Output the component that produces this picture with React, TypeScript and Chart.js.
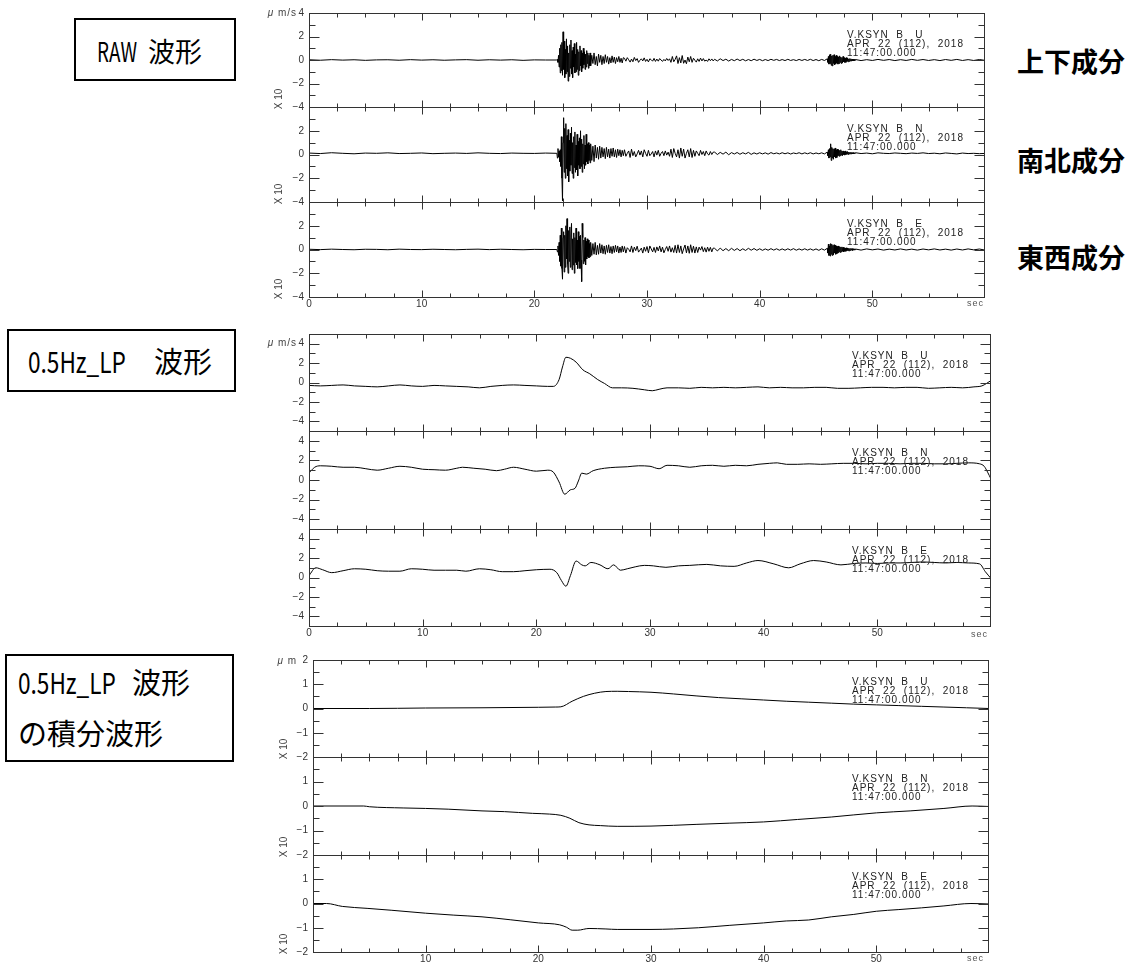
import React, { useEffect, useRef } from 'react';
import { Chart, registerables } from 'chart.js';

Chart.register(...registerables);

// ------------------------------------------------------------------ data
const X_TICK_VALUES = [0, 10, 20, 30, 40, 50, 60];
const X_LABELS_FULL = ['0', '10', '20', '30', '40', '50', ''];
const X_LABELS_NO0 = ['', '10', '20', '30', '40', '50', ''];

const STATION_LINE = 'V.KSYN  B   ';
const COMPONENTS = ['U', 'N', 'E'];
const DATE_LINE = 'APR  22  (112),  2018';
const TIME_LINE = '11:47:00.000';
const RIGHT_LABELS = ['上下成分', '南北成分', '東西成分'];

// RAW waveform segments: sample start time / sample step (s)
const RAW_PRE_START = 0, RAW_PRE_STEP = 1;
const RAW_BURST_A_START = 22, RAW_BURST_A_STEP = 0.05;
const RAW_BURST_B_START = 25, RAW_BURST_B_STEP = 0.1;
const RAW_CODA_A_START = 28, RAW_CODA_A_STEP = 0.125;
const RAW_CODA_B_START = 36, RAW_CODA_B_STEP = 0.25;
const RAW_BURST2_START = 46, RAW_BURST2_STEP = 0.05;
const RAW_TAIL_START = 48.5, RAW_TAIL_STEP = 0.5;

// ---- U
const RAW_U_PRE = [0.02, -0.02, 0.03, -0.01, 0.02, -0.03, 0.01, 0.02, -0.02, 0.03, -0.01, 0.02, -0.02, 0.01, 0.03, -0.02, 0.02, -0.01, 0.02, -0.03, 0.01, 0.0];
const RAW_U_BURST_A = [
  0.0, 0.05, -0.2, 0.4, -0.6, 1.0, -1.1, 1.3, -0.9, 1.5,
  -1.3, 2.4, -0.8, 1.6, -1.5, 0.9, -1.2, 1.8, -1.0, 1.2,
  -1.8, 0.6, -1.4, 1.3, -0.7, 1.7, -1.2, 0.8, -1.5, 1.1,
  -0.6, 1.4, -1.1, 0.5, -1.0, 1.5, -0.8, 0.9, -1.3, 0.7,
  -0.9, 1.2, -0.5, 0.8, -1.0, 0.6, -0.7, 1.0, -0.4, 0.7,
  -0.8, 0.5, -0.6, 0.8, -0.3, 0.6, -0.7, 0.4, -0.5, 0.6];
const RAW_U_BURST_B = [
  -0.5, 0.4, -0.3, 0.6, -0.4, 0.3, -0.5, 0.5, -0.2, 0.4,
  -0.4, 0.3, -0.3, 0.45, -0.2, 0.3, -0.35, 0.2, -0.25, 0.35,
  -0.2, 0.25, -0.3, 0.2, -0.15, 0.3, -0.2, 0.15, -0.25, 0.2];
const RAW_U_CODA_A = [
  0.15, -0.1, 0.2, 0.02, -0.18, 0.08, -0.15, 0.22,
  -0.05, 0.12, -0.2, -0.02, 0.1, -0.08, 0.18, -0.12,
  0.06, -0.16, 0.1, 0.02, -0.1, 0.14, -0.12, 0.08,
  -0.1, 0.12, 0.0, -0.12, 0.05, -0.08, 0.13, -0.04,
  0.1, -0.2, 0.3, -0.15, 0.05, 0.35, -0.3, 0.2,
  -0.25, 0.38, -0.28, 0.0, -0.32, 0.25, -0.15, 0.3,
  -0.2, 0.15, -0.02, -0.18, 0.1, -0.12, 0.16, -0.08,
  0.12, -0.1, 0.0, -0.12, 0.1, -0.06, 0.09, -0.08];
const RAW_U_CODA_B = [
  0.06, -0.08, 0.1, -0.05, 0.07, -0.09, 0.05, -0.06,
  0.08, -0.05, 0.06, -0.07, 0.04, -0.06, 0.07, -0.04,
  0.05, -0.06, 0.04, -0.05, 0.06, -0.03, 0.05, -0.05,
  0.04, -0.05, 0.06, -0.04, 0.03, -0.05, 0.05, -0.04,
  0.05, -0.04, 0.06, -0.05, 0.04, -0.06, 0.05, -0.04];
const RAW_U_BURST2 = [
  0.1, -0.2, 0.3, -0.35, 0.45, -0.3, 0.5, -0.45, 0.35, -0.5,
  0.4, -0.3, 0.45, -0.4, 0.3, -0.35, 0.4, -0.25, 0.3, -0.35,
  0.25, -0.3, 0.35, -0.2, 0.25, -0.3, 0.2, -0.25, 0.3, -0.15,
  0.2, -0.2, 0.15, -0.2, 0.2, -0.12, 0.15, -0.15, 0.1, -0.12,
  0.12, -0.08, 0.1, -0.1, 0.08, -0.06, 0.07, -0.08, 0.05, -0.05];
const RAW_U_TAIL = [0.04, -0.05, 0.03, -0.04, 0.05, -0.03, 0.04, -0.05, 0.03, -0.04, 0.05, -0.03, 0.04, -0.04, 0.03, -0.05, 0.04, -0.03, 0.05, -0.04, 0.03, -0.04, 0.04, -0.03];

// ---- N
const RAW_N_PRE = [0.12, 0.08, 0.15, 0.1, 0.06, 0.12, 0.1, 0.14, 0.08, 0.1, 0.13, 0.07, 0.1, 0.12, 0.09, 0.14, 0.1, 0.08, 0.12, 0.1, 0.09, 0.12];
const RAW_N_BURST_A = [
  0.1, -0.3, 0.5, -0.2, 0.3, -0.6, 0.4, -1.0, 1.5, -2.0,
  -3.9, 1.0, 3.1, -1.5, 2.2, -2.0, 2.6, -1.2, 1.6, -1.8,
  2.1, -2.3, 1.2, -1.4, 1.8, -0.9, 2.3, -1.6, 1.0, -2.0,
  1.5, -1.1, 1.9, -1.5, 0.8, -1.3, 1.7, -1.8, 1.1, -0.9,
  1.4, -1.2, 2.0, -1.0, 1.3, -1.5, 0.9, -0.8, 1.6, -1.2,
  0.8, -0.9, 1.7, -0.6, 0.9, -0.8, 1.0, -0.5, 0.8, -0.7];
const RAW_N_BURST_B = [
  0.9, -0.5, 0.7, -0.6, 0.8, -0.3, 0.6, -0.4, 0.7, -0.3,
  0.6, -0.2, 0.5, -0.35, 0.6, -0.2, 0.45, -0.3, 0.5, -0.15,
  0.55, -0.2, 0.4, -0.25, 0.45, -0.1, 0.4, -0.2, 0.35, -0.1];
const RAW_N_CODA_A = [
  0.4, -0.15, 0.1, 0.3, -0.25, 0.45, -0.1, 0.25,
  -0.2, 0.05, 0.35, -0.05, 0.3, -0.2, 0.4, 0.1,
  -0.15, 0.35, -0.1, 0.05, 0.25, -0.2, 0.3, -0.05,
  0.35, -0.15, 0.1, 0.25, -0.1, 0.3, -0.05, 0.2,
  -0.15, 0.45, -0.25, 0.5, 0.1, -0.2, 0.4, -0.3,
  0.55, -0.15, 0.45, -0.3, 0.1, 0.4, -0.2, 0.5,
  -0.25, 0.35, -0.15, 0.3, 0.1, -0.1, 0.35, 0.0,
  0.25, -0.1, 0.3, 0.05, -0.05, 0.25, 0.0, 0.2];
const RAW_N_CODA_B = [
  0.2, 0.0, 0.18, 0.03, 0.2, -0.02, 0.16, 0.04,
  0.17, 0.02, 0.15, 0.05, 0.18, 0.01, 0.14, 0.04,
  0.15, 0.05, 0.14, 0.03, 0.16, 0.06, 0.13, 0.05,
  0.15, 0.06, 0.14, 0.04, 0.13, 0.07, 0.15, 0.05,
  0.14, 0.06, 0.15, 0.05, 0.13, 0.06, 0.14, 0.05];
const RAW_N_BURST2 = [
  0.2, -0.1, 0.4, -0.3, 0.5, -0.2, 0.9, -0.5, 0.6, -0.3,
  0.5, -0.4, 0.45, -0.2, 0.55, -0.3, 0.4, -0.25, 0.45, -0.1,
  0.4, -0.15, 0.35, -0.1, 0.4, -0.05, 0.3, -0.1, 0.3, 0.0,
  0.25, -0.05, 0.3, 0.0, 0.2, 0.02, 0.25, 0.0, 0.2, 0.04,
  0.18, 0.05, 0.2, 0.03, 0.15, 0.06, 0.16, 0.05, 0.14, 0.08];
const RAW_N_TAIL = [0.15, 0.08, 0.12, 0.06, 0.14, 0.1, 0.08, 0.13, 0.1, 0.07, 0.12, 0.09, 0.14, 0.08, 0.11, 0.06, 0.13, 0.09, 0.05, 0.12, 0.08, 0.1, 0.07, 0.09];

// ---- E
const RAW_E_PRE = [0.02, -0.01, 0.03, 0.0, -0.02, 0.02, 0.01, -0.02, 0.03, 0.0, -0.01, 0.02, 0.0, -0.02, 0.01, 0.03, -0.01, 0.02, 0.0, -0.02, 0.01, 0.0];
const RAW_E_BURST_A = [
  0.0, -0.2, 0.3, -0.5, 0.6, -1.0, 1.2, -1.4, 1.8, -1.6,
  -2.5, 1.0, 1.5, -1.9, 1.2, -1.5, 2.0, -0.8, 2.6, -1.2,
  -2.0, 1.6, -1.0, 1.9, -1.5, 1.0, 2.2, -1.7, 0.9, -1.3,
  1.4, -2.0, 1.0, -1.1, 1.8, -1.3, 0.8, -1.6, 1.5, -1.0,
  1.1, -1.6, 1.2, -0.9, -2.7, 2.2, 1.0, -1.2, 0.8, -1.0,
  1.0, -1.3, 0.7, -0.8, 0.9, -0.6, 0.8, -0.7, 0.5, -0.6];
const RAW_E_BURST_B = [
  0.6, -0.5, 0.5, -0.4, 0.6, -0.45, 0.35, -0.4, 0.5, -0.3,
  0.4, -0.35, 0.3, -0.4, 0.35, -0.25, 0.4, -0.3, 0.25, -0.35,
  0.3, -0.25, 0.35, -0.2, 0.3, -0.3, 0.2, -0.25, 0.3, -0.2];
const RAW_E_CODA_A = [
  0.25, -0.3, 0.15, 0.02, -0.2, 0.3, -0.25, 0.2,
  -0.1, 0.28, -0.22, -0.05, 0.12, -0.3, 0.2, -0.15,
  0.25, -0.28, 0.3, 0.05, -0.2, 0.18, -0.25, 0.22,
  -0.12, 0.3, -0.2, 0.2, -0.28, 0.0, 0.25, -0.15,
  0.3, -0.22, 0.15, -0.25, 0.35, -0.3, 0.4, -0.25,
  0.3, -0.35, 0.05, 0.38, -0.28, 0.3, -0.32, 0.4,
  -0.25, 0.28, -0.3, 0.22, -0.25, 0.2, -0.05, 0.25,
  -0.18, 0.15, -0.22, 0.2, -0.15, 0.18, -0.2, 0.12];
const RAW_E_CODA_B = [
  0.1, -0.12, 0.12, -0.1, 0.08, -0.1, 0.1, -0.08,
  0.08, -0.1, 0.06, -0.08, 0.1, -0.06, 0.08, -0.07,
  0.06, -0.07, 0.05, -0.06, 0.07, -0.05, 0.06, -0.06,
  0.05, -0.06, 0.06, -0.05, 0.07, -0.06, 0.05, -0.05,
  0.06, -0.05, 0.05, -0.06, 0.05, -0.07, 0.06, -0.05];
const RAW_E_BURST2 = [
  0.1, -0.3, 0.45, -0.5, 0.3, -0.55, 0.5, -0.4, 0.45, -0.5,
  0.35, -0.45, 0.4, -0.3, 0.35, -0.4, 0.3, -0.35, 0.25, -0.3,
  0.3, -0.2, 0.25, -0.25, 0.2, -0.2, 0.22, -0.15, 0.18, -0.2,
  0.15, -0.15, 0.12, -0.15, 0.14, -0.1, 0.12, -0.1, 0.1, -0.12,
  0.08, -0.08, 0.1, -0.06, 0.07, -0.08, 0.06, -0.05, 0.05, -0.05];
const RAW_E_TAIL = [0.04, -0.05, 0.05, -0.03, 0.04, -0.05, 0.03, -0.04, 0.05, -0.04, 0.03, -0.05, 0.04, -0.03, 0.05, -0.04, 0.03, -0.05, 0.04, -0.04, 0.05, -0.03, 0.04, -0.05];

// 0.5 Hz low-pass waveforms: [time s, value]
const LP_U = [[0, -0.3], [1, -0.35], [2, -0.3], [3, -0.25], [4, -0.35], [5, -0.4], [6, -0.45], [7, -0.35], [8, -0.25], [9, -0.35], [10, -0.4], [11, -0.3], [12, -0.35], [13, -0.4], [14, -0.45], [15, -0.55], [16, -0.4], [17, -0.3], [18, -0.25], [19, -0.3], [20, -0.35], [21, -0.4], [21.5, -0.4], [22, 0.3], [22.3, 1.6], [22.6, 2.6], [23.0, 2.5], [23.5, 2.1], [24.1, 1.3], [24.7, 0.9], [25.4, 0.3], [26.0, -0.1], [26.7, -0.55], [27.5, -0.55], [28.5, -0.6], [29.5, -0.75], [30.2, -0.85], [30.8, -0.7], [31.5, -0.55], [32.5, -0.55], [33.5, -0.6], [34.5, -0.5], [35.5, -0.55], [36.5, -0.5], [37.5, -0.55], [38.5, -0.5], [39.5, -0.45], [40.5, -0.55], [41.5, -0.5], [42.5, -0.55], [43.5, -0.55], [44.5, -0.5], [45.5, -0.5], [46.5, -0.6], [47.5, -0.6], [48.5, -0.55], [49.5, -0.5], [50.5, -0.5], [51.5, -0.55], [52.5, -0.5], [53.5, -0.5], [54.5, -0.6], [55.5, -0.55], [56.5, -0.5], [57.5, -0.55], [58.5, -0.45], [59.2, -0.35], [59.6, -0.1], [60, 0.2]];
const LP_N = [[0, 0.7], [0.5, 1.3], [1, 1.45], [2, 1.4], [3, 1.3], [4, 1.3], [5, 1.15], [6, 1.0], [7, 1.2], [8, 1.4], [9, 1.3], [10, 1.1], [11, 1.05], [12, 1.0], [13, 1.2], [13.5, 1.3], [14.5, 1.2], [15.5, 1.1], [16.5, 0.95], [17.2, 1.1], [18, 1.3], [19, 1.1], [20, 0.9], [21, 1.0], [21.5, 0.8], [22, -0.2], [22.5, -1.45], [23.0, -1.0], [23.4, -0.85], [23.7, -0.1], [24.0, 0.7], [24.4, 0.6], [25, 0.95], [26, 1.2], [27, 1.3], [28, 1.35], [29, 1.45], [30, 1.4], [30.8, 1.15], [31.5, 1.5], [32.5, 1.45], [33.5, 1.3], [34.5, 1.45], [35.5, 1.5], [36.5, 1.4], [37.5, 1.5], [38.5, 1.45], [39.5, 1.6], [40.5, 1.7], [41.2, 1.75], [42, 1.6], [43, 1.6], [44, 1.65], [45, 1.6], [46, 1.65], [47, 1.7], [48, 1.7], [49, 1.65], [50, 1.7], [51, 1.7], [52, 1.65], [53, 1.7], [54, 1.7], [55, 1.65], [56, 1.65], [57, 1.7], [58, 1.75], [59, 1.65], [59.4, 1.4], [59.7, 0.8], [60, 0.1]];
const LP_E = [[0, 0.2], [0.6, 1.0], [1.2, 0.8], [2, 0.5], [3, 0.7], [4, 0.9], [5, 0.85], [6, 0.7], [7, 0.65], [8, 0.65], [9, 0.9], [10, 0.85], [11, 0.75], [12, 0.75], [13, 0.75], [13.8, 0.65], [15, 0.9], [16, 0.8], [17, 0.6], [18, 0.6], [19, 0.7], [20, 0.8], [21.2, 0.85], [21.8, 0.5], [22.2, -0.3], [22.6, -0.9], [23.0, 0.2], [23.5, 1.7], [24.0, 1.3], [24.3, 1.2], [24.8, 1.55], [25.6, 1.3], [26.3, 0.9], [26.8, 1.3], [27.4, 0.75], [28.0, 0.9], [28.7, 1.1], [29.5, 1.25], [30.3, 1.2], [31.4, 1.05], [32.5, 1.2], [33.5, 1.25], [35, 1.35], [36.2, 1.2], [37.4, 1.15], [38.5, 1.5], [39.5, 1.75], [40.9, 1.4], [42.2, 1.0], [43.2, 1.4], [44.4, 1.75], [45.5, 1.6], [46.8, 1.3], [48, 1.45], [49, 1.5], [50, 1.45], [51, 1.5], [52, 1.5], [53, 1.55], [54, 1.6], [55, 1.55], [56, 1.5], [57, 1.55], [58, 1.5], [59, 1.4], [59.5, 0.6], [60, -0.1]];

// integrated (displacement) waveforms: [time s, value]
const INT_U = [[0, 0.0], [5, 0.0], [10, 0.02], [15, 0.03], [20, 0.05], [21.5, 0.06], [22, 0.07], [23, 0.3], [24, 0.5], [25, 0.63], [26, 0.7], [27, 0.71], [28, 0.7], [30, 0.67], [32, 0.6], [34, 0.52], [36, 0.45], [38, 0.4], [40, 0.35], [42, 0.3], [44, 0.26], [46, 0.22], [48, 0.18], [50, 0.15], [52, 0.12], [54, 0.09], [56, 0.06], [58, 0.03], [60, 0.0]];
const INT_N = [[0, 0], [4.5, 0], [5, -0.03], [8, -0.08], [10, -0.1], [12, -0.13], [15, -0.2], [17, -0.23], [19.5, -0.3], [21, -0.33], [22, -0.38], [22.8, -0.5], [23.6, -0.68], [24.5, -0.77], [25.5, -0.8], [27, -0.83], [30, -0.82], [34, -0.75], [37, -0.7], [40, -0.65], [43, -0.55], [46, -0.45], [50, -0.28], [53, -0.2], [56, -0.1], [58.5, 0.0], [60, -0.02]];
const INT_E = [[0, 0], [1.2, 0], [2.6, -0.12], [4.8, -0.2], [7, -0.28], [10, -0.4], [12.5, -0.48], [15, -0.55], [17.5, -0.67], [20, -0.8], [21.9, -0.88], [22.5, -0.98], [23, -1.1], [23.5, -1.1], [24.5, -1.03], [26, -1.05], [27, -1.07], [30, -1.07], [32, -1.05], [34.2, -1.0], [37, -0.9], [40, -0.8], [42, -0.72], [44, -0.68], [46, -0.55], [48, -0.45], [50, -0.32], [52, -0.25], [54, -0.18], [56, -0.1], [58.4, 0.0], [60, -0.02]];

const Y_TICKS_RAW_TOP = [-4, -2, 0, 2, 4];
const Y_TICKS_RAW = [-4, -2, 0, 2];
const Y_MINOR_RAW = [-3, -1, 1, 3];
const Y_TICKS_LP = [-4, -2, 0, 2, 4];
const Y_MINOR_LP = [-5, -3, -1, 1, 3, 5];
const Y_TICKS_INT_TOP = [-2, -1, 0, 1, 2];
const Y_TICKS_INT = [-2, -1, 0, 1];
const Y_MINOR_INT = [-1.5, -0.5, 0.5, 1.5];

// ------------------------------------------------------------------ helpers
type Pt = { x: number; y: number };
const seg = (start: number, step: number, vals: number[]): Pt[] =>
  vals.map((v, i) => ({ x: Math.round((start + i * step) * 1000) / 1000, y: v }));
const rawTrace = (pre: number[], a: number[], b: number[], ca: number[], cb: number[], b2: number[], tail: number[]): Pt[] => [
  ...seg(RAW_PRE_START, RAW_PRE_STEP, pre),
  ...seg(RAW_BURST_A_START, RAW_BURST_A_STEP, a),
  ...seg(RAW_BURST_B_START, RAW_BURST_B_STEP, b),
  ...seg(RAW_CODA_A_START, RAW_CODA_A_STEP, ca),
  ...seg(RAW_CODA_B_START, RAW_CODA_B_STEP, cb),
  ...seg(RAW_BURST2_START, RAW_BURST2_STEP, b2),
  ...seg(RAW_TAIL_START, RAW_TAIL_STEP, tail),
];
const pairs = (arr: number[][]): Pt[] => arr.map(([x, y]) => ({ x, y }));
const fmt = (v: number) => (v < 0 ? '\u2212' + Math.abs(v) : String(v));

// ------------------------------------------------------------------ layout
const GROUPS = [
  { left: 309, right: 985, tops: [13, 107, 202, 297], ymin: -4, ymax: 4, textLeft: 847, x10: 279, secLeft: 967, secTop: 298, unit: 'm/s', unitTop: 7 },
  { left: 309, right: 991, tops: [334, 431, 529, 626], ymin: -5, ymax: 5, textLeft: 852, x10: 0, secLeft: 971, secTop: 629, unit: 'm/s', unitTop: 337 },
  { left: 313, right: 989, tops: [660, 757, 855, 952], ymin: -2, ymax: 2, textLeft: 852, x10: 284, secLeft: 967, secTop: 953, unit: 'm', unitTop: 655 },
];

interface PanelCfg {
  left: number; right: number; top: number; bottom: number;
  ymin: number; ymax: number; yLabels: number[]; yMinor: number[];
  showX: boolean; xLabels: string[]; data: Pt[]; smooth: boolean;
}

const TRACES = [
  [rawTrace(RAW_U_PRE, RAW_U_BURST_A, RAW_U_BURST_B, RAW_U_CODA_A, RAW_U_CODA_B, RAW_U_BURST2, RAW_U_TAIL),
   rawTrace(RAW_N_PRE, RAW_N_BURST_A, RAW_N_BURST_B, RAW_N_CODA_A, RAW_N_CODA_B, RAW_N_BURST2, RAW_N_TAIL),
   rawTrace(RAW_E_PRE, RAW_E_BURST_A, RAW_E_BURST_B, RAW_E_CODA_A, RAW_E_CODA_B, RAW_E_BURST2, RAW_E_TAIL)],
  [pairs(LP_U), pairs(LP_N), pairs(LP_E)],
  [pairs(INT_U), pairs(INT_N), pairs(INT_E)],
];
const PANELS: PanelCfg[] = [];
GROUPS.forEach((g, gi) => {
  for (let r = 0; r < 3; r++) {
    PANELS.push({
      left: g.left, right: g.right, top: g.tops[r], bottom: g.tops[r + 1],
      ymin: g.ymin, ymax: g.ymax,
      yLabels: gi === 0 ? (r === 0 ? Y_TICKS_RAW_TOP : Y_TICKS_RAW) : gi === 1 ? Y_TICKS_LP : (r === 0 ? Y_TICKS_INT_TOP : Y_TICKS_INT),
      yMinor: gi === 0 ? Y_MINOR_RAW : gi === 1 ? Y_MINOR_LP : Y_MINOR_INT,
      showX: r === 2,
      xLabels: gi === 2 ? X_LABELS_NO0 : X_LABELS_FULL,
      data: TRACES[gi][r],
      smooth: gi !== 0,
    });
  }
});

const CANVAS_LEFT = 240;
const PAD_TOP = 8;
const X_AXIS_H = 18;
const FONT = "'Liberation Sans', Arial, sans-serif";

function PanelChart({ p }: { p: PanelCfg }) {
  const ref = useRef<HTMLCanvasElement | null>(null);
  const padBottom = p.showX ? 0 : 8;
  const w = p.right + 10 - CANVAS_LEFT;
  const h = p.bottom - p.top + PAD_TOP + (p.showX ? X_AXIS_H : padBottom);

  useEffect(() => {
    const canvas = ref.current as HTMLCanvasElement;
    const framePlugin = {
      id: 'frame',
      afterDraw(chart: any) {
        const { ctx, chartArea: a, scales } = chart;
        const xs = scales.x, ys = scales.y;
        const L = Math.round(a.left) + 0.5, R = Math.round(a.right) - 0.5;
        const T = Math.round(a.top) + 0.5, B = Math.round(a.bottom) + 0.5;
        ctx.save();
        ctx.strokeStyle = '#333';
        ctx.lineWidth = 1;
        ctx.strokeRect(L, T, R - L, B - T);
        ctx.beginPath();
        for (let t = 2.5; t < 60; t += 2.5) {
          const px = Math.round(xs.getPixelForValue(t)) + 0.5;
          const len = t % 10 === 0 ? 7 : 4;
          ctx.moveTo(px, T); ctx.lineTo(px, T + len);
          ctx.moveTo(px, B); ctx.lineTo(px, B - len);
        }
        const yTick = (v: number, len: number) => {
          const py = Math.round(ys.getPixelForValue(v)) + 0.5;
          ctx.moveTo(L, py); ctx.lineTo(L + len, py);
          ctx.moveTo(R, py); ctx.lineTo(R - len, py);
        };
        p.yLabels.forEach((v) => yTick(v, 10));
        p.yMinor.forEach((v) => yTick(v, 6));
        ctx.stroke();
        ctx.restore();
      },
    };
    const chart = new Chart(canvas, {
      type: 'line',
      data: {
        datasets: [{
          data: p.data,
          borderColor: '#000',
          borderWidth: 1,
          pointRadius: 0,
          fill: false,
          tension: 0,
          cubicInterpolationMode: p.smooth ? 'monotone' : 'default',
        }],
      },
      options: {
        animation: false,
        responsive: false,
        maintainAspectRatio: false,
        events: [],
        layout: { padding: { left: 0, right: 10, top: PAD_TOP, bottom: padBottom } },
        plugins: { legend: { display: false }, tooltip: { enabled: false } },
        scales: {
          x: {
            type: 'linear', min: 0, max: 60, display: p.showX,
            grid: { display: false, drawTicks: false }, border: { display: false },
            afterBuildTicks: (s: any) => { s.ticks = X_TICK_VALUES.map((v) => ({ value: v })); },
            afterFit: (s: any) => { if (p.showX) s.height = X_AXIS_H; },
            ticks: {
              padding: 1, autoSkip: false, maxRotation: 0, color: '#333',
              font: { family: FONT, size: 10 },
              callback: (_v: any, i: number) => p.xLabels[i],
            },
          },
          y: {
            type: 'linear', min: p.ymin, max: p.ymax,
            grid: { display: false, drawTicks: false }, border: { display: false },
            afterBuildTicks: (s: any) => { s.ticks = p.yLabels.map((v) => ({ value: v })); },
            afterFit: (s: any) => { s.width = p.left - CANVAS_LEFT; },
            ticks: {
              padding: 5, color: '#333',
              font: { family: FONT, size: 10 },
              callback: (v: any) => fmt(Number(v)),
            },
          },
        },
      } as any,
      plugins: [framePlugin],
    });
    // make the plotting area land exactly on the panel rectangle
    const a = chart.chartArea;
    const dw = Math.round((p.right - p.left) - (a.right - a.left));
    const dh = Math.round((p.bottom - p.top) - (a.bottom - a.top));
    if (dw !== 0 || dh !== 0) chart.resize(chart.width + dw, chart.height + dh);
    const b = chart.chartArea;
    canvas.style.left = `${Math.round(p.left - b.left)}px`;
    canvas.style.top = `${Math.round(p.top - b.top)}px`;
    return () => chart.destroy();
  }, []);

  return (
    <canvas
      ref={ref}
      width={w}
      height={h}
      style={{ position: 'absolute', left: CANVAS_LEFT, top: p.top - PAD_TOP, width: w, height: h }}
    />
  );
}

const JP = "'Noto Sans CJK JP', sans-serif";

function Latin({ text, left, cy, size, scale }: { text: string; left: number; cy: number; size: number; scale: number }) {
  return (
    <div style={{ position: 'absolute', left, top: cy - size / 2, height: size, lineHeight: `${size}px`, fontFamily: JP, fontSize: size, whiteSpace: 'pre', transform: `scaleX(${scale})`, transformOrigin: 'left center', color: '#000' }}>
      {text}
    </div>
  );
}
function Kanji({ text, left, cy, size }: { text: string; left: number; cy: number; size: number }) {
  return (
    <div style={{ position: 'absolute', left, top: cy - size / 2, height: size, lineHeight: `${size}px`, fontFamily: JP, fontSize: size, whiteSpace: 'pre', color: '#000' }}>
      {text}
    </div>
  );
}

export default function App() {
  const box: React.CSSProperties = { position: 'absolute', border: '2px solid #000', boxSizing: 'border-box', background: '#fff' };
  const small: React.CSSProperties = { position: 'absolute', fontFamily: FONT, fontSize: 10, color: '#222', whiteSpace: 'pre' };
  return (
    <div style={{ position: 'absolute', left: 0, top: 0, width: 1140, height: 965, background: '#fff', overflow: 'hidden' }}>
      {PANELS.map((p, i) => <PanelChart key={i} p={p} />)}

      {PANELS.map((p, i) => {
        const g = GROUPS[Math.floor(i / 3)];
        return (
          <div key={'s' + i} style={{ ...small, left: g.textLeft, top: p.top + 17, lineHeight: '9px', letterSpacing: '1px' }}>
            <div>{STATION_LINE + COMPONENTS[i % 3]}</div>
            <div>{DATE_LINE}</div>
            <div>{TIME_LINE}</div>
          </div>
        );
      })}

      {GROUPS.map((g, gi) => (
        <React.Fragment key={'g' + gi}>
          <div style={{ ...small, left: 240, width: 57, textAlign: 'right', top: g.unitTop, color: '#444', letterSpacing: '1px' }}>
            <i>{'\u03bc'}</i>{' ' + g.unit}
          </div>
          <div style={{ ...small, left: g.secLeft, top: g.secTop, fontSize: 9, color: '#555', letterSpacing: '1px' }}>sec</div>
          {g.x10 > 0 && [0, 1, 2].map((r) => (
            <div key={r} style={{ ...small, left: g.x10 - 12, top: g.tops[r + 1] - 8 - 5, width: 24, height: 10, lineHeight: '10px', textAlign: 'center', color: '#444', transform: 'rotate(-90deg)' }}>X 10</div>
          ))}
        </React.Fragment>
      ))}

      <div style={{ ...box, left: 74, top: 18, width: 162, height: 63 }} />
      <Latin text="RAW" left={97} cy={50} size={27} scale={0.7} />
      <Kanji text="波形" left={148} cy={50} size={27} />

      <div style={{ ...box, left: 7, top: 329, width: 229, height: 63 }} />
      <Latin text="0.5Hz_LP" left={28} cy={360} size={29} scale={0.78} />
      <Kanji text="波形" left={154} cy={360} size={29} />

      <div style={{ ...box, left: 5, top: 654, width: 229, height: 108 }} />
      <Latin text="0.5Hz_LP" left={18} cy={681} size={29} scale={0.78} />
      <Kanji text="波形" left={132} cy={681} size={29} />
      <Kanji text="の積分波形" left={18} cy={732} size={29} />

      {RIGHT_LABELS.map((t, i) => (
        <div key={t} style={{ position: 'absolute', left: 1017, top: [61, 160, 257][i] - 14, height: 28, lineHeight: '28px', fontFamily: JP, fontWeight: 700, fontSize: 27, color: '#000', whiteSpace: 'pre' }}>{t}</div>
      ))}
    </div>
  );
}
